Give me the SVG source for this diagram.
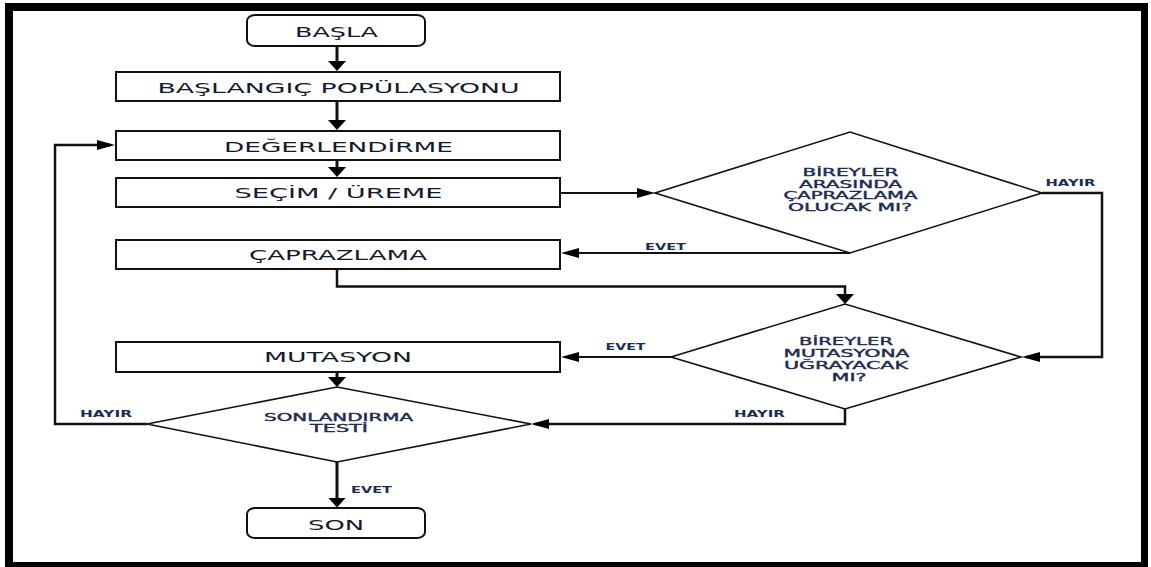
<svg xmlns="http://www.w3.org/2000/svg" width="1151" height="567" viewBox="0 0 1151 567">
  <style>
    .box { fill: #ffffff; stroke: #111111; stroke-width: 2; }
    .dec { fill: #ffffff; stroke: #111111; stroke-width: 1.6; stroke-linejoin: miter; }
    .t { font-family: "DejaVu Sans", Verdana, sans-serif; font-size: 14px; fill: #141a2e; text-anchor: middle; }
    .dt { font-family: "DejaVu Sans", Verdana, sans-serif; font-size: 10px; fill: #1e2b52; stroke: #1e2b52; stroke-width: 0.35; text-anchor: middle; }
    .lb { font-family: "DejaVu Sans", Verdana, sans-serif; font-size: 8.5px; font-weight: bold; fill: #1e2b52; text-anchor: middle; }
    .ln { fill: none; stroke: #111111; stroke-width: 2; }
    .lv { fill: none; stroke: #111111; stroke-width: 3; }
    .lm { fill: none; stroke: #111111; stroke-width: 2.5; stroke-linejoin: miter; }
    .frame { fill: #000000; }
  </style>
  <defs>
    <!-- horizontal-running arrowhead: long and flat -->
    <marker id="arrH" markerUnits="userSpaceOnUse" viewBox="0 0 18 10" markerWidth="18" markerHeight="10" refX="14" refY="5" orient="auto">
      <path d="M0,0 L18,5 L0,10 z" fill="#000000"/>
    </marker>
    <!-- vertical-running arrowhead: short and wide -->
    <marker id="arrV" markerUnits="userSpaceOnUse" viewBox="0 0 10 18" markerWidth="10" markerHeight="18" refX="6" refY="9" orient="auto">
      <path d="M0,0 L10,9 L0,18 z" fill="#000000"/>
    </marker>
  </defs>

  <rect width="1151" height="567" fill="#ffffff"/>

  <!-- outer frame -->
  <g id="frame">
    <rect class="frame" x="5" y="3" width="1143" height="8"/>
    <rect class="frame" x="5" y="3" width="8" height="564"/>
    <rect class="frame" x="1141" y="3" width="7" height="560"/>
    <rect class="frame" x="5" y="562" width="1143" height="5"/>
  </g>

  <!-- connectors -->
  <g id="connectors">
    <path class="lv" d="M337,46 V67" marker-end="url(#arrV)"/>
    <path class="lv" d="M337,101 V126" marker-end="url(#arrV)"/>
    <path class="lv" d="M337,160 V173" marker-end="url(#arrV)"/>
    <path class="ln" d="M561,193 H651" marker-end="url(#arrH)"/>
    <path class="ln" d="M850,253 H565" marker-end="url(#arrH)"/>
    <path class="lm" d="M1042,193 H1102 V357 H1026" marker-end="url(#arrH)"/>
    <path class="lm" d="M337,270 V286.5 H845 V300" marker-end="url(#arrV)"/>
    <path class="ln" d="M671,357 H565" marker-end="url(#arrH)"/>
    <path class="lm" d="M845,409 V424 H535" marker-end="url(#arrH)"/>
    <path class="lv" d="M337,372 V383" marker-end="url(#arrV)"/>
    <path class="lm" d="M147,424 H55 V145 H111" marker-end="url(#arrH)"/>
    <path class="lv" d="M337,462 V503.5" stroke-width="3.5" marker-end="url(#arrV)"/>
    <text class="lb" x="665.5" y="249.5" textLength="41" lengthAdjust="spacingAndGlyphs">EVET</text>
    <text class="lb" x="1070.5" y="186" textLength="50" lengthAdjust="spacingAndGlyphs">HAYIR</text>
    <text class="lb" x="625.5" y="350" textLength="40" lengthAdjust="spacingAndGlyphs">EVET</text>
    <text class="lb" x="759.5" y="417" textLength="51" lengthAdjust="spacingAndGlyphs">HAYIR</text>
    <text class="lb" x="106" y="417" textLength="52" lengthAdjust="spacingAndGlyphs">HAYIR</text>
    <text class="lb" x="371.5" y="492.5" textLength="41" lengthAdjust="spacingAndGlyphs">EVET</text>
  </g>

  <g id="basla">
    <rect class="box" x="247" y="15" width="178" height="31" rx="8" ry="6"/>
    <text class="t" x="336.5" y="36.5" textLength="83" lengthAdjust="spacingAndGlyphs">BAŞLA</text>
  </g>
  <g id="baslangic">
    <rect class="box" x="116" y="72" width="444" height="29"/>
    <text class="t" x="338.5" y="92.5" textLength="362" lengthAdjust="spacingAndGlyphs">BAŞLANGIÇ POPÜLASYONU</text>
  </g>
  <g id="degerlendirme">
    <rect class="box" x="116" y="131" width="444" height="29"/>
    <text class="t" x="338.5" y="151.5" textLength="229" lengthAdjust="spacingAndGlyphs">DEĞERLENDİRME</text>
  </g>
  <g id="secim">
    <rect class="box" x="116" y="178" width="444" height="29"/>
    <text class="t" x="338.5" y="198" textLength="208" lengthAdjust="spacingAndGlyphs">SEÇİM / ÜREME</text>
  </g>
  <g id="caprazlama">
    <rect class="box" x="116" y="240" width="444" height="29"/>
    <text class="t" x="338" y="260" textLength="178" lengthAdjust="spacingAndGlyphs">ÇAPRAZLAMA</text>
  </g>
  <g id="mutasyon">
    <rect class="box" x="116" y="342" width="444" height="30"/>
    <text class="t" x="338" y="362" textLength="148" lengthAdjust="spacingAndGlyphs">MUTASYON</text>
  </g>
  <g id="son">
    <rect class="box" x="247" y="508" width="178" height="30" rx="8" ry="6"/>
    <text class="t" x="336" y="529.5" textLength="56" lengthAdjust="spacingAndGlyphs">SON</text>
  </g>

  <g id="karar-caprazlama">
    <polygon class="dec" points="655,193 850,132 1042,193 850,253"/>
    <text class="dt" x="850.5" y="175.5" textLength="96" lengthAdjust="spacingAndGlyphs">BİREYLER</text>
    <text class="dt" x="850.5" y="187.5" textLength="103" lengthAdjust="spacingAndGlyphs">ARASINDA</text>
    <text class="dt" x="850.5" y="199" textLength="134" lengthAdjust="spacingAndGlyphs">ÇAPRAZLAMA</text>
    <text class="dt" x="850" y="210.5" textLength="124" lengthAdjust="spacingAndGlyphs">OLUCAK MI?</text>
  </g>
  <g id="karar-mutasyon">
    <polygon class="dec" points="671,357 845,304 1021,357 845,409"/>
    <text class="dt" x="846" y="344.5" textLength="94" lengthAdjust="spacingAndGlyphs">BİREYLER</text>
    <text class="dt" x="846.5" y="356.5" textLength="126" lengthAdjust="spacingAndGlyphs">MUTASYONA</text>
    <text class="dt" x="846" y="368.5" textLength="124" lengthAdjust="spacingAndGlyphs">UĞRAYACAK</text>
    <text class="dt" x="849" y="380.5" textLength="35" lengthAdjust="spacingAndGlyphs">MI?</text>
  </g>
  <g id="sonlandirma-testi">
    <polygon class="dec" points="147,424 337,387 531,424 337,462"/>
    <text class="dt" x="338.5" y="420.5" textLength="149" lengthAdjust="spacingAndGlyphs">SONLANDIRMA</text>
    <text class="dt" x="339" y="432" textLength="58" lengthAdjust="spacingAndGlyphs">TESTİ</text>
  </g>
</svg>
